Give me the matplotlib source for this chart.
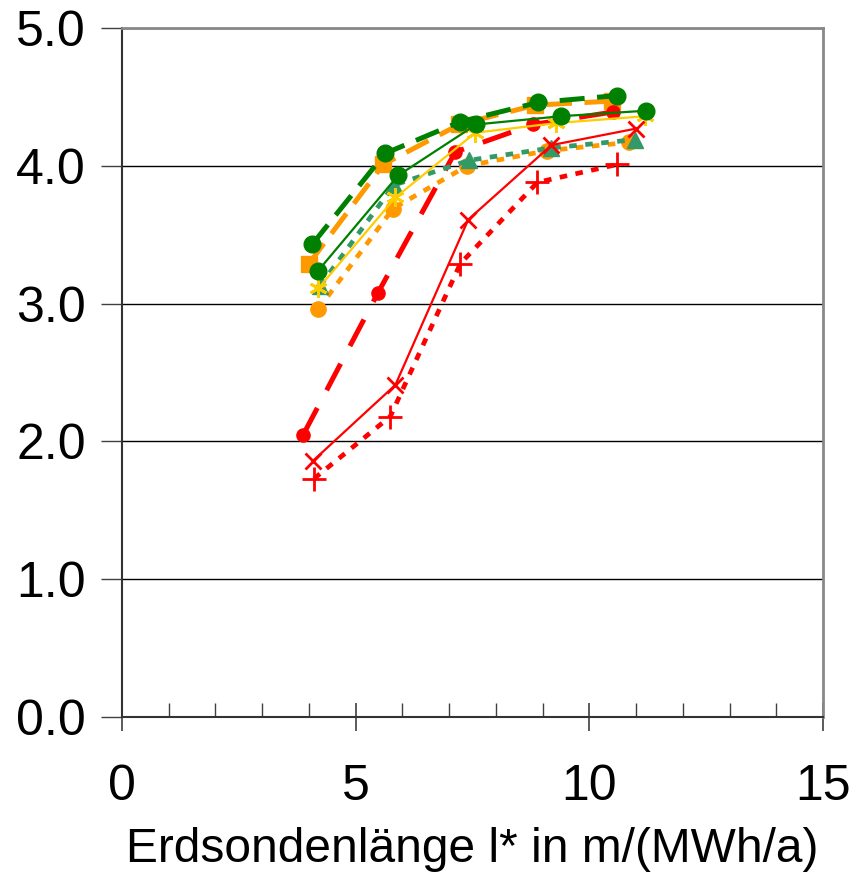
import numpy as np
import matplotlib
matplotlib.use('Agg')
import matplotlib.pyplot as plt
from matplotlib.ticker import MultipleLocator

plt.rcParams['font.family'] = ['Liberation Sans', 'DejaVu Sans']

# Erdsondenlaenge l* (x) und Kennwert (y) je Kurve
x_gruen_dash = [4.07, 5.63, 7.24, 8.91, 10.60]
y_gruen_dash = [3.43, 4.09, 4.32, 4.46, 4.51]
x_orange_dash = [4.00, 5.59, 7.22, 8.84, 10.49]
y_orange_dash = [3.29, 4.01, 4.30, 4.44, 4.47]
x_gruen_solid = [4.20, 5.91, 7.58, 9.40, 11.22]
y_gruen_solid = [3.24, 3.93, 4.30, 4.36, 4.40]
x_gelb_solid = [4.20, 5.85, 7.56, 9.29, 11.20]
y_gelb_solid = [3.11, 3.77, 4.24, 4.31, 4.36]
x_tuerkis_dot = [4.24, 5.82, 7.43, 9.19, 10.98]
y_tuerkis_dot = [3.13, 3.86, 4.04, 4.13, 4.19]
x_orange_dot = [4.20, 5.80, 7.39, 9.10, 10.84]
y_orange_dot = [2.96, 3.69, 4.00, 4.11, 4.17]
x_rot_dash = [3.88, 5.48, 7.13, 8.80, 10.50]
y_rot_dash = [2.05, 3.08, 4.10, 4.30, 4.39]
x_rot_solid = [4.09, 5.85, 7.41, 9.19, 11.00]
y_rot_solid = [1.86, 2.41, 3.61, 4.15, 4.27]
x_rot_dot = [4.11, 5.74, 7.24, 8.89, 10.60]
y_rot_dot = [1.73, 2.18, 3.29, 3.88, 4.01]

x_ticks = [0, 5, 10, 15]
y_ticks = [0.0, 1.0, 2.0, 3.0, 4.0, 5.0]
x_label = 'Erdsondenlänge l* in m/(MWh/a)'

fig = plt.figure(figsize=(8.61, 8.81), dpi=100)
ax = fig.add_axes([122/861, 164/881, 701/861, 689/881])

# gestrichelt dick
ax.plot(x_orange_dash, y_orange_dash, color='#FF9900', lw=3.6, dashes=(5, 2.5),
        marker='s', ms=11, zorder=3)
ax.plot(x_gruen_dash, y_gruen_dash, color='#008000', lw=3.6, dashes=(5, 2.5),
        marker='o', ms=12, zorder=4)
ax.plot(x_rot_dash, y_rot_dash, color='#FF0000', lw=3.6, dashes=(6, 4),
        marker='o', ms=9.5, zorder=3)
# gepunktet
ax.plot(x_orange_dot, y_orange_dot, color='#FF9900', lw=3.4, dashes=(1.6, 1.8),
        marker='o', ms=11, zorder=3)
ax.plot(x_tuerkis_dot, y_tuerkis_dot, color='#339966', lw=3.4, dashes=(1.6, 1.8),
        marker='^', ms=12, zorder=4)
ax.plot(x_rot_dot, y_rot_dot, color='#FF0000', lw=3.4, dashes=(1.6, 1.8),
        marker='+', ms=17, mew=2, zorder=3)
# durchgezogen duenn
ax.plot(x_gelb_solid, y_gelb_solid, color='#FFCC00', lw=1.6,
        marker=(6, 2, 0), ms=13, mew=2, zorder=4)
ax.plot(x_gruen_solid, y_gruen_solid, color='#008000', lw=1.6,
        marker='o', ms=12, zorder=5)
ax.plot(x_rot_solid, y_rot_solid, color='#FF0000', lw=1.6,
        marker='x', ms=12, mew=2, zorder=5)

ax.set_xlim(0, 15)
ax.set_ylim(0, 5)
ax.set_xticks(x_ticks)
ax.set_yticks(y_ticks)
ax.set_yticklabels(['%.1f' % v for v in y_ticks])
ax.xaxis.set_minor_locator(MultipleLocator(1))
ax.yaxis.grid(True, color='black', lw=1)
ax.set_axisbelow(True)

ax.tick_params(axis='x', which='major', direction='inout', length=20, width=1.2,
               labelsize=36, pad=24, color='#404040')
ax.tick_params(axis='x', which='minor', direction='in', length=10, width=1,
               color='#404040')
ax.tick_params(axis='y', which='major', direction='out', length=15, width=1,
               labelsize=36, pad=11, color='#404040')

for s in ['left', 'bottom']:
    ax.spines[s].set_color('#333333')
    ax.spines[s].set_linewidth(1.5)
for s in ['top', 'right']:
    ax.spines[s].set_color('#888888')
    ax.spines[s].set_linewidth(2)

ax.set_xlabel(x_label, fontsize=34.5, labelpad=12)

fig.savefig('out.png', dpi=100)
